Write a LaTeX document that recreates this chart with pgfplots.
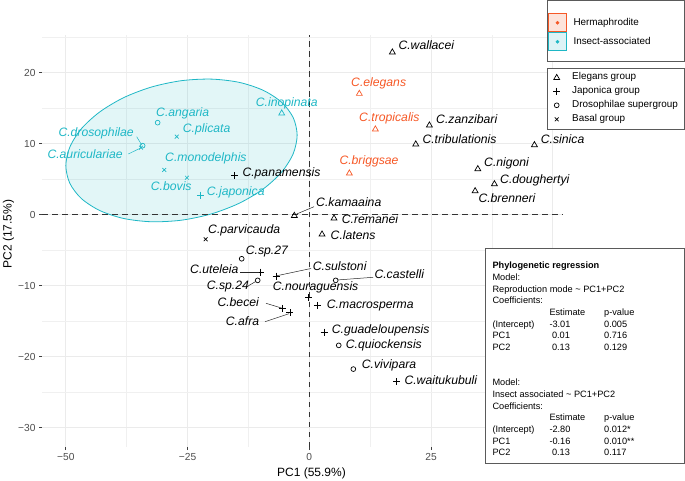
\documentclass[border=0pt]{standalone}
\usepackage{pgfplots}
\pgfplotsset{compat=1.18}
\usepackage{fontspec}
\setmainfont{Liberation Sans}
\definecolor{orng}{RGB}{246,88,38}
\definecolor{cyn}{RGB}{30,183,197}
\definecolor{orngfill}{RGB}{253,228,219}
\definecolor{cynfill}{RGB}{221,243,246}
\definecolor{gridc}{RGB}{235,235,235}
\definecolor{tickc}{RGB}{77,77,77}
\definecolor{framec}{RGB}{90,90,90}
\newcommand{\lfont}{\fontsize{12.2}{14}\selectfont\itshape}
\newcommand{\lb}[4]{\node[anchor=mid west,inner sep=0pt,text=#1,font=\lfont] at (#2,{480-#3}) {#4};}
\newcommand{\rt}[3]{\node[anchor=mid west,inner sep=0pt,font=\fontsize{9.2}{11}\selectfont] at (#1,{480-266-11.7*#2}) {#3};}
\newcommand{\legtxt}[2]{\node[anchor=mid west,inner sep=0pt,font=\fontsize{9.9}{11}\selectfont] at (#1) {#2};}
\begin{document}
\begin{tikzpicture}[x=1pt,y=1pt]
\useasboundingbox (0pt,0pt) rectangle (685pt,480pt);
\begin{axis}[
  at={(42pt,33pt)}, anchor=south west,
  scale only axis, width=521pt, height=412pt,
  xmin=-54.9, xmax=52.1, ymin=-32.7, ymax=25.3,
  xtick={-50,-25,0,25,50}, xticklabels={−50,−25,0,25,},
  ytick={-30,-20,-10,0,10,20}, yticklabels={−30,−20,−10,0,10,20},
  minor xtick={-37.5,-12.5,12.5,37.5}, minor ytick={-25,-15,-5,5,15,25},
  xmajorgrids, ymajorgrids, xminorgrids, yminorgrids,
  major grid style={gridc, line width=0.9pt},
  minor grid style={gridc!75, line width=0.5pt},
  axis line style={draw=none},
  xtick pos=left, ytick pos=left,
  tick align=outside, major tick length=3pt, minor tick length=0pt,
  tick style={color=black!75, line width=0.8pt},
  ticklabel style={font=\fontsize{10.2}{12}\selectfont, text=tickc},
]
% ellipse
\addplot[draw=cyn, line width=0.8pt, fill=cyn, fill opacity=0.13, smooth cycle] coordinates {
(-2.50,11.20) (-3.31,13.67) (-5.68,15.82) (-9.46,17.51) (-14.38,18.63) (-20.10,19.09)
(-26.25,18.87) (-32.40,17.98) (-38.13,16.48) (-43.04,14.47) (-46.82,12.10) (-49.19,9.51)
(-50.00,6.90) (-49.19,4.43) (-46.82,2.28) (-43.04,0.59) (-38.13,-0.53) (-32.40,-0.99)
(-26.25,-0.77) (-20.10,0.12) (-14.38,1.62) (-9.46,3.63) (-5.68,6.00) (-3.31,8.59)};
% reference lines
\addplot[black!80, line width=0.9pt, dash pattern=on 5.5pt off 4.5pt] coordinates {(-54.9,0) (52.1,0)};
\addplot[black!80, line width=0.9pt, dash pattern=on 5.5pt off 4.5pt] coordinates {(0,-32.7) (0,25.3)};
% Elegans group (triangles)
\addplot[only marks, mark=triangle, mark size=3.4pt, black, line width=0.7pt] coordinates {
(17.05,22.87) (24.66,12.59) (21.86,9.92) (46.23,9.82) (34.60,6.44) (38.01,4.32) (34.05,3.34)
(-3.08,-0.14) (5.07,-0.51) (2.61,-2.76)};
\addplot[only marks, mark=triangle, mark size=3.4pt, orng, line width=0.7pt] coordinates {
(10.27,17.04) (13.56,12.03) (8.22,5.83)};
\addplot[only marks, mark=triangle, mark size=3.4pt, cyn, line width=0.7pt] coordinates {
(-5.67,14.28)};
% Japonica group (plus)
\addplot[only marks, mark=+, mark size=3.5pt, black, line width=0.7pt] coordinates {
(-15.33,5.49) (-10.07,-8.07) (-6.84,-8.63) (-0.12,-11.63) (1.64,-12.76) (-5.47,-13.18)
(-3.97,-13.80) (3.02,-16.52) (17.96,-23.52)};
\addplot[only marks, mark=+, mark size=3.5pt, cyn, line width=0.7pt] coordinates {
(-22.40,2.77)};
% Drosophilae supergroup (circles)
\addplot[only marks, mark=o, mark size=2.4pt, black, line width=0.7pt] coordinates {
(-13.89,-6.20) (-10.60,-9.24) (5.42,-9.24) (6.04,-18.39) (9.04,-21.73)};
\addplot[only marks, mark=o, mark size=2.4pt, cyn, line width=0.7pt] coordinates {
(-31.15,12.96) (-34.23,9.72)};
% Basal group (crosses)
\addplot[only marks, mark=x, mark size=2.7pt, black, line width=0.7pt] coordinates {
(-21.29,-3.46)};
\addplot[only marks, mark=x, mark size=2.7pt, cyn, line width=0.7pt] coordinates {
(-27.24,10.99) (-34.58,9.44) (-29.79,6.30) (-25.13,5.21)};
\end{axis}
% legend frames and keys
\draw[framec, line width=0.7pt, fill=white] (547.3,480) rectangle (684,419);
\draw[orng, fill=orngfill, line width=1pt] (548.8,466.5) rectangle (566.2,448.2);
\draw[cyn, fill=cynfill, line width=1pt] (548.8,447.2) rectangle (566.2,429.5);
\legtxt{573.3,456.7}{Hermaphrodite}
\legtxt{573.3,438}{Insect-associated}
\draw[framec, line width=0.7pt, fill=white] (547.3,411.7) rectangle (684,351);
\legtxt{572,403}{Elegans group}
\legtxt{572,388.9}{Japonica group}
\legtxt{572,374.7}{Drosophilae supergroup}
\legtxt{572,360.7}{Basal group}
% legend marks drawn through an axis in picture units
\begin{axis}[at={(0pt,0pt)}, anchor=south west, scale only axis, width=685pt, height=480pt,
  xmin=0, xmax=685, ymin=0, ymax=480, hide axis, clip=false]
\addplot[only marks, mark=*, mark size=1.6pt, orng] coordinates {(557.5,457.3)};
\addplot[only marks, mark=*, mark size=1.6pt, cyn] coordinates {(557.5,438.3)};
\addplot[only marks, mark=triangle, mark size=3.4pt, black, line width=0.7pt] coordinates {(556.7,402.2)};
\addplot[only marks, mark=+, mark size=3.5pt, black, line width=0.7pt] coordinates {(556.7,388.9)};
\addplot[only marks, mark=o, mark size=2.4pt, black, line width=0.7pt] coordinates {(556.7,374.7)};
\addplot[only marks, mark=x, mark size=2.7pt, black, line width=0.7pt] coordinates {(556.7,360.7)};
\end{axis}
% axis titles
\node[font=\fontsize{12}{14}\selectfont] at (311.5,{480-473.5}) {PC1 (55.9\%)};
\node[font=\fontsize{12}{14}\selectfont, rotate=90] at (8.5,{480-234}) {PC2 (17.5\%)};
% leader lines
\draw[cyn, line width=0.5pt] (136.7,{480-136.7}) -- (141.7,{480-145});
\draw[cyn, line width=0.5pt] (128.3,{480-154}) -- (140,{480-148.3});
\draw[black!85, line width=0.5pt] (296.7,{480-214}) -- (314,{480-206.7});
\draw[black!85, line width=0.5pt] (240,{480-272}) -- (259,{480-272});
\draw[black!85, line width=0.5pt] (277,{480-275.7}) -- (311,{480-268.5});
\draw[black!85, line width=0.5pt] (248,{480-286}) -- (256,{480-281.3});
\draw[black!85, line width=0.5pt] (337,{480-280}) -- (373,{480-277.3});
\draw[black!85, line width=0.5pt] (266,{480-303.3}) -- (281.5,{480-308});
\draw[black!85, line width=0.5pt] (265,{480-321.7}) -- (289,{480-313.7});
% species labels
\lb{cyn}{255.7}{103.7}{C.inopinata}
\lb{cyn}{156}{114}{C.angaria}
\lb{cyn}{182.7}{130.3}{C.plicata}
\lb{cyn}{58.3}{133.7}{C.drosophilae}
\lb{cyn}{47.3}{155.7}{C.auriculariae}
\lb{cyn}{165}{158.7}{C.monodelphis}
\lb{cyn}{150.7}{188}{C.bovis}
\lb{cyn}{206.7}{193.3}{C.japonica}
\lb{orng}{351}{83.7}{C.elegans}
\lb{orng}{359}{119.3}{C.tropicalis}
\lb{orng}{339.3}{162.3}{C.briggsae}
\lb{black}{242.3}{174}{C.panamensis}
\lb{black}{316}{203.7}{C.kamaaina}
\lb{black}{208}{231}{C.parvicauda}
\lb{black}{398.3}{46.7}{C.wallacei}
\lb{black}{436}{120.7}{C.zanzibari}
\lb{black}{422.3}{141}{C.tribulationis}
\lb{black}{540.7}{141}{C.sinica}
\lb{black}{484}{164.3}{C.nigoni}
\lb{black}{500}{180.7}{C.doughertyi}
\lb{black}{478.3}{200.3}{C.brenneri}
\lb{black}{341.7}{221}{C.remanei}
\lb{black}{330.5}{236.7}{C.latens}
\lb{black}{245.7}{251.7}{C.sp.27}
\lb{black}{190}{271}{C.uteleia}
\lb{black}{312.7}{267.7}{C.sulstoni}
\lb{black}{206.7}{286.7}{C.sp.24}
\lb{black}{374.3}{276}{C.castelli}
\lb{black}{272.7}{287.7}{C.nouraguensis}
\lb{black}{326.7}{306}{C.macrosperma}
\lb{black}{217.3}{304.3}{C.becei}
\lb{black}{225.7}{323.3}{C.afra}
\lb{black}{331.7}{330.7}{C.guadeloupensis}
\lb{black}{345.7}{346}{C.quiockensis}
\lb{black}{361.7}{366}{C.vivipara}
\lb{black}{404.3}{381.7}{C.waitukubuli}
% regression box
\draw[framec, line width=0.7pt, fill=white] (485.7,{480-248.5}) rectangle (684,{480-463});
\rt{492.3}{0}{\textbf{Phylogenetic regression}}
\rt{492.3}{1}{Model:}
\rt{492.3}{2}{Reproduction mode \textasciitilde{} PC1+PC2}
\rt{492.3}{3}{Coefficients:}
\rt{549.3}{4}{Estimate}
\rt{604}{4}{p-value}
\rt{492.3}{5}{(Intercept)}
\rt{549.3}{5}{-3.01}
\rt{604}{5}{0.005}
\rt{492.3}{6}{PC1}
\rt{551.8}{6}{0.01}
\rt{604}{6}{0.716}
\rt{492.3}{7}{PC2}
\rt{551.8}{7}{0.13}
\rt{604}{7}{0.129}
\rt{492.3}{10}{Model:}
\rt{492.3}{11}{Insect associated \textasciitilde{} PC1+PC2}
\rt{492.3}{12}{Coefficients:}
\rt{549.3}{13}{Estimate}
\rt{604}{13}{p-value}
\rt{492.3}{14}{(Intercept)}
\rt{549.3}{14}{-2.80}
\rt{604}{14}{0.012*}
\rt{492.3}{15}{PC1}
\rt{549.3}{15}{-0.16}
\rt{604}{15}{0.010**}
\rt{492.3}{16}{PC2}
\rt{551.8}{16}{0.13}
\rt{604}{16}{0.117}
\end{tikzpicture}
\end{document}
